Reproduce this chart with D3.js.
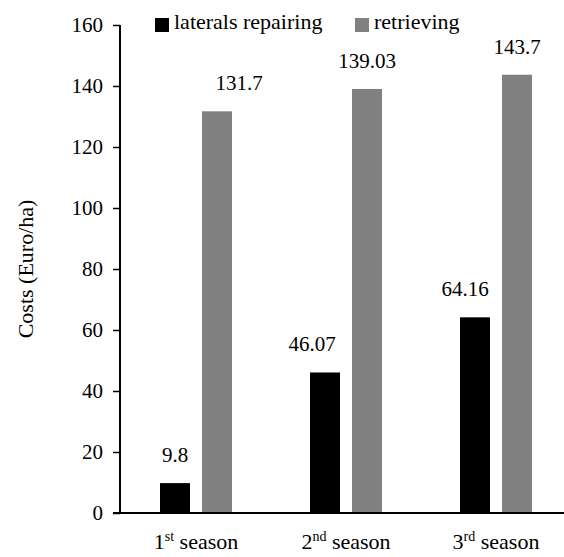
<!DOCTYPE html>
<html>
<head>
<meta charset="utf-8">
<script src="https://cdn.jsdelivr.net/npm/d3@7"></script>
<style>
  html, body { margin: 0; padding: 0; background: #fff; }
  svg { display: block; }
</style>
</head>
<body>
<svg id="chart" width="564" height="557"></svg>
<script>
// Seasons on the x axis (ordinal number + superscript suffix)
const seasons = ["1st season", "2nd season", "3rd season"];
const seasonNum = ["1", "2", "3"];
const seasonSup = ["st", "nd", "rd"];

// Cost series, Euro/ha
const seriesNames = ["laterals repairing", "retrieving"];
const lateralsRepairing = [9.8, 46.07, 64.16];
const retrieving = [131.7, 139.03, 143.7];
const labelText = [["9.8", "46.07", "64.16"], ["131.7", "139.03", "143.7"]];

const yTicks = [0, 20, 40, 60, 80, 100, 120, 140, 160];
const colors = ["#000000", "#808080"];

// horizontal nudges of the value labels (px), per series / season
const labelNudge = [[0, -13, -10], [22, 0, 0]];

const fontFamily = "'Liberation Serif', 'DejaVu Serif', 'Times New Roman', serif";
const numSize = 21;   // tick and value labels
const wordSize = 22;  // legend, category and axis titles

const svg = d3.select("#chart").attr("font-family", fontFamily);

const y = d3.scaleLinear().domain([0, 160]).range([513, 25]);
const x0 = d3.scaleBand().domain(seasons).range([121, 571]).padding(0);
const x1 = d3.scaleBand().domain(seriesNames).range([39, 111]).paddingInner(2 - 72 / 42).paddingOuter(0);

const values = [lateralsRepairing, retrieving];

// bars
seriesNames.forEach((name, si) => {
  svg.append("g")
    .selectAll("rect")
    .data(values[si])
    .join("rect")
    .attr("x", (d, i) => x0(seasons[i]) + x1(name))
    .attr("width", x1.bandwidth())
    .attr("y", d => y(d))
    .attr("height", d => y(0) - y(d))
    .attr("fill", colors[si]);
});

// value labels, clipped at the top of the plot
svg.append("clipPath").attr("id", "plotClip")
  .append("rect").attr("x", 0).attr("y", 38.5).attr("width", 564).attr("height", 520);

const labels = svg.append("g").attr("clip-path", "url(#plotClip)");
seriesNames.forEach((name, si) => {
  labels.selectAll(null)
    .data(values[si])
    .join("text")
    .attr("x", (d, i) => x0(seasons[i]) + x1(name) + x1.bandwidth() / 2 + labelNudge[si][i])
    .attr("y", d => y(d) - 21)
    .attr("text-anchor", "middle")
    .attr("font-size", numSize)
    .attr("fill", "#000")
    .text((d, i) => labelText[si][i]);
});

// y axis
const yAxis = d3.axisLeft(y).tickValues(yTicks).tickSize(7).tickPadding(10).tickFormat(d3.format("d"));
const gy = svg.append("g").attr("transform", "translate(120,0)").call(yAxis);
gy.attr("font-family", fontFamily).attr("font-size", numSize);
gy.select(".domain").attr("stroke", "#000").attr("stroke-width", 2).attr("d", `M0,${y(160)}V${y(0)}`);
gy.selectAll(".tick line").attr("stroke", "#000").attr("stroke-width", 1.5);
gy.selectAll(".tick text").attr("fill", "#000");

// x axis baseline
svg.append("line")
  .attr("x1", 113).attr("x2", 564)
  .attr("y1", y(0)).attr("y2", y(0))
  .attr("stroke", "#000").attr("stroke-width", 2);

// x category labels with superscripts
const xl = svg.append("g");
seasons.forEach((s, i) => {
  const t = xl.append("text")
    .attr("x", x0(s) + x0.bandwidth() / 2)
    .attr("y", 549)
    .attr("text-anchor", "middle")
    .attr("font-size", wordSize)
    .attr("fill", "#000");
  t.append("tspan").text(seasonNum[i]);
  t.append("tspan").attr("font-size", 14).attr("dy", -8).text(seasonSup[i]);
  t.append("tspan").attr("dy", 8).text("\u00a0season");
});

// y axis title
svg.append("text")
  .attr("transform", `translate(33,${(y(0) + y(160)) / 2}) rotate(-90)`)
  .attr("text-anchor", "middle")
  .attr("font-size", wordSize)
  .attr("fill", "#000")
  .text("Costs (Euro/ha)");

// legend
const legendX = [155, 355];
seriesNames.forEach((name, si) => {
  const g = svg.append("g").attr("transform", `translate(${legendX[si]},0)`);
  g.append("rect").attr("x", 0).attr("y", 18).attr("width", 14).attr("height", 14).attr("fill", colors[si]);
  g.append("text").attr("x", 19).attr("y", 29).attr("font-size", wordSize).attr("fill", "#000").text(name);
});
</script>
</body>
</html>
